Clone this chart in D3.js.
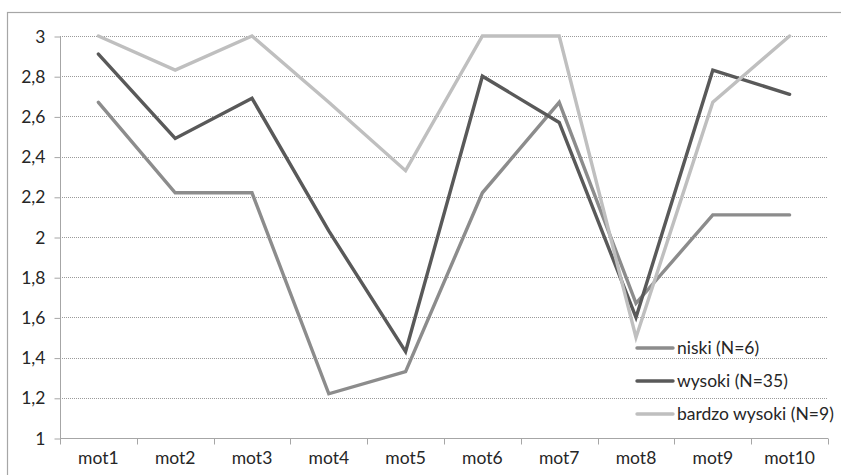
<!DOCTYPE html>
<html><head><meta charset="utf-8">
<script src="https://cdn.jsdelivr.net/npm/d3@7"></script>
<style>html,body{margin:0;padding:0;background:#fff;}svg{display:block;}</style>
</head><body>
<svg id="chart" width="841" height="475"></svg>
<script>
const categories = ["mot1","mot2","mot3","mot4","mot5","mot6","mot7","mot8","mot9","mot10"];
const niski = [2.67,2.22,2.22,1.22,1.33,2.22,2.67,1.67,2.11,2.11];
const wysoki = [2.91,2.49,2.69,2.03,1.43,2.80,2.57,1.60,2.83,2.71];
const bardzoWysoki = [3.0,2.83,3.0,2.67,2.33,3.0,3.0,1.50,2.67,3.0];
const seriesNames = ["niski (N=6)","wysoki (N=35)","bardzo wysoki (N=9)"];
const yTicks = [1,1.2,1.4,1.6,1.8,2,2.2,2.4,2.6,2.8,3];

const colors = ["#8c8c8c","#595959","#bfbfbf"];
const seriesData = [niski, wysoki, bardzoWysoki];
const font = "Lato, 'Open Sans', sans-serif";
const fs = 17.5;

const svg = d3.select("#chart");
const pL = 60, pR = 828, pT = 36, pB = 438;

svg.append("rect").attr("x",7.5).attr("y",12.5).attr("width",900).attr("height",600)
  .attr("fill","none").attr("stroke","#a6a6a6").attr("stroke-width",1.2);

const x = d3.scaleBand().domain(categories).range([pL,pR]).padding(0);
const y = d3.scaleLinear().domain([1,3]).range([pB,pT]);

// gridlines
svg.append("g").selectAll("line").data(yTicks.filter(t=>t>1)).join("line")
  .attr("x1",pL).attr("x2",pR)
  .attr("y1",d=>Math.round(y(d))+0.5).attr("y2",d=>Math.round(y(d))+0.5)
  .attr("stroke","#9a9a9a").attr("stroke-width",1).attr("stroke-dasharray","1,1");

// y axis
const yAxis = d3.axisLeft(y).tickValues(yTicks).tickSize(6).tickPadding(9)
  .tickFormat(d=>d3.format("~g")(d).replace(".",","));
const gy = svg.append("g").attr("transform",`translate(${pL+0.5},0.5)`).call(yAxis);
gy.select(".domain").attr("stroke","#a6a6a6").attr("d",`M0,${pT}V${pB}`);
gy.selectAll(".tick line").attr("stroke","#a6a6a6");
gy.selectAll(".tick text").attr("font-family",font).attr("font-size",fs).attr("fill","#262626");

// x axis
const gx = svg.append("g").attr("transform",`translate(0,${pB+0.5})`);
gx.append("line").attr("x1",pL).attr("x2",pR).attr("stroke","#a6a6a6");
const bounds = categories.map(c=>x(c)).concat([pR]);
gx.selectAll("line.tk").data(bounds).join("line").attr("class","tk")
  .attr("x1",d=>Math.round(d)+0.5).attr("x2",d=>Math.round(d)+0.5).attr("y1",0).attr("y2",6)
  .attr("stroke","#a6a6a6");
gx.selectAll("text").data(categories).join("text")
  .attr("x",d=>x(d)+x.bandwidth()/2).attr("y",25)
  .attr("text-anchor","middle").attr("font-family",font).attr("font-size",fs).attr("fill","#262626")
  .text(d=>d);

// lines
const line = d3.line().x((d,i)=>x(categories[i])+x.bandwidth()/2).y(d=>y(d));
seriesData.forEach((s,i)=>{
  svg.append("path").datum(s).attr("d",line).attr("fill","none")
    .attr("stroke",colors[i]).attr("stroke-width",3.4)
    .attr("stroke-linejoin","miter").attr("stroke-linecap","round");
});

// legend
const lg = svg.append("g");
const legY = [348,381,414];
seriesNames.forEach((n,i)=>{
  lg.append("line").attr("x1",637).attr("x2",673).attr("y1",legY[i]).attr("y2",legY[i])
    .attr("stroke",colors[i]).attr("stroke-width",3.4).attr("stroke-linecap","round");
  lg.append("text").attr("x",677).attr("y",legY[i]).attr("dy","0.36em")
    .attr("font-family",font).attr("font-size",fs).attr("fill","#262626").text(n);
});
</script>
</body></html>
